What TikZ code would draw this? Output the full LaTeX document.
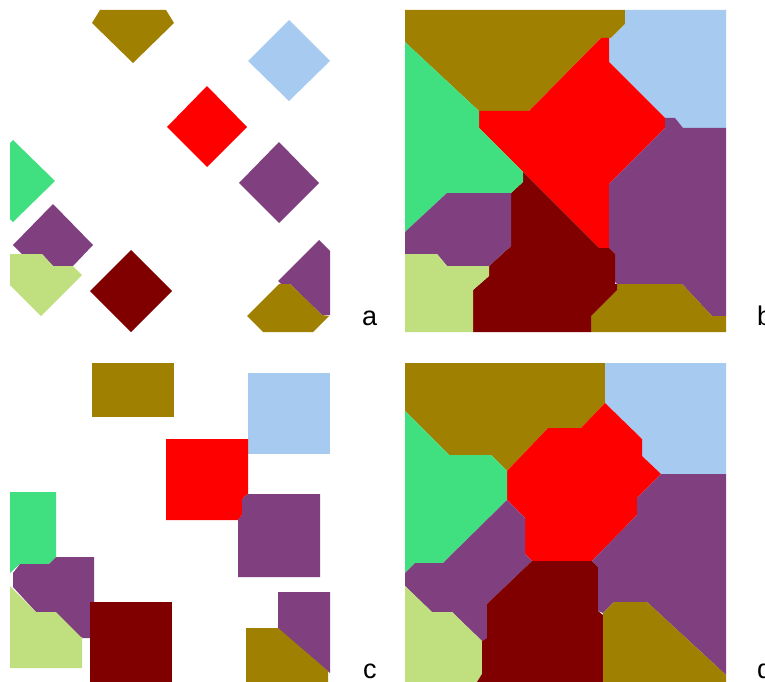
\documentclass[tikz,border=0pt]{standalone}
\usepackage{fontspec}
\setmainfont{Liberation Sans}
\definecolor{colive}{RGB}{160,128,0}
\definecolor{cblue}{RGB}{166,202,240}
\definecolor{cred}{RGB}{255,0,0}
\definecolor{cpurple}{RGB}{128,64,128}
\definecolor{cgreen}{RGB}{64,224,128}
\definecolor{clight}{RGB}{192,224,128}
\definecolor{cdark}{RGB}{128,0,0}
\tikzset{panellabel/.style={anchor=base west, inner sep=0pt, font=\fontsize{27}{30}\selectfont}}
\begin{document}
\begin{tikzpicture}[x=1pt,y=-1pt]
        \useasboundingbox (0,0) rectangle (765,682);
        % panel a
        \fill[colive] (100,10) -- (166,10) -- (174,23) -- (133,63) -- (92,23) -- cycle;
        \fill[cblue] (248,61) -- (289,20) -- (330,61) -- (289,101) -- cycle;
        \fill[cred] (167,127) -- (207,86) -- (247,127) -- (207,167) -- cycle;
        \fill[cpurple] (239,183) -- (279,142) -- (319,183) -- (279,223) -- cycle;
        \fill[cgreen] (10,143) -- (13,140) -- (55,181) -- (13,222) -- (10,219) -- cycle;
        \fill[cpurple] (13,245) -- (53,204) -- (93,245) -- (73,266) -- (53,266) -- (42,254) -- (22,254) -- cycle;
        \fill[clight] (10,254) -- (42,254) -- (53,266) -- (73,266) -- (82,275) -- (41,316) -- (10,285) -- cycle;
        \fill[cdark] (90,291) -- (131,250) -- (172,291) -- (131,332) -- cycle;
        \fill[cpurple] (278,281) -- (319,240) -- (330,251) -- (330,315) -- (322,315) -- (290,284) -- (281,284) -- cycle;
        \fill[colive] (247,316) -- (279,284) -- (290,284) -- (322,315) -- (329,316) -- (313,332) -- (263,332) -- cycle;
        % panel b
        \fill[colive] (405,10) -- (625,10) -- (625,24) -- (611,38) -- (601,38) -- (529,111) -- (479,111) -- (405,42) -- cycle;
        \fill[cblue] (625,10) -- (726,10) -- (726,128) -- (683,128) -- (675,118) -- (665,118) -- (609,62) -- (609,38) -- (611,38) -- (625,24) -- cycle;
        \fill[cred] (601,38) -- (609,38) -- (609,62) -- (665,118) -- (665,128) -- (609,184) -- (609,248) -- (599,248) -- (523,172) -- (479,128) -- (479,111) -- (529,111) -- cycle;
        \fill[cpurple] (665,118) -- (675,118) -- (683,128) -- (726,128) -- (726,316) -- (712,316) -- (682,284) -- (617,284) -- (615,282) -- (615,254) -- (609,248) -- (609,184) -- (665,128) -- cycle;
        \fill[colive] (617,284) -- (682,284) -- (712,316) -- (726,316) -- (726,332) -- (591,332) -- (591,316) -- (617,290) -- cycle;
        \fill[cdark] (523,172) -- (599,248) -- (609,248) -- (615,254) -- (615,284) -- (617,284) -- (617,290) -- (591,316) -- (591,332) -- (473,332) -- (473,290) -- (489,276) -- (489,266) -- (511,246) -- (511,193) -- (523,182) -- cycle;
        \fill[cgreen] (405,42) -- (479,111) -- (479,128) -- (523,172) -- (523,182) -- (511,193) -- (447,193) -- (405,232) -- cycle;
        \fill[cpurple] (405,232) -- (447,193) -- (511,193) -- (511,246) -- (489,266) -- (447,266) -- (437,254) -- (405,254) -- cycle;
        \fill[clight] (405,254) -- (437,254) -- (447,266) -- (489,266) -- (489,276) -- (473,290) -- (473,332) -- (405,332) -- cycle;
        % panel c
        \fill[colive] (92,363) rectangle (174,417);
        \fill[cblue] (248,373) rectangle (330,454);
        \fill[cred] (166,439) -- (248,439) -- (248,494) -- (245,496) -- (242,500) -- (242,515) -- (238,520) -- (166,520) -- cycle;
        \fill[cpurple] (238,520) -- (242,515) -- (242,500) -- (245,496) -- (248,494) -- (320,494) -- (320,577) -- (238,577) -- cycle;
        \fill[cgreen] (10,492) -- (56,492) -- (56,557) -- (49,564) -- (20,564) -- (13,570) -- (10,573) -- cycle;
        \fill[cpurple] (13,573) -- (20,564) -- (49,564) -- (56,557) -- (94,557) -- (94,602) -- (90,602) -- (90,638) -- (80,638) -- (56,613) -- (36,612) -- (13,587) -- cycle;
        \fill[clight] (10,586) -- (36,612) -- (56,612) -- (81,637) -- (82,637) -- (82,668) -- (10,668) -- cycle;
        \fill[cdark] (90,602) rectangle (172,682);
        \fill[cpurple] (278,592) -- (330,592) -- (330,673) -- (278,629) -- cycle;
        \fill[colive] (246,628) -- (278,628) -- (328,671) -- (328,682) -- (246,682) -- cycle;
        % panel d
        \fill[colive] (405,363) -- (605,363) -- (605,403) -- (581,428) -- (548,428) -- (507,471) -- (491,455) -- (449,455) -- (405,411) -- cycle;
        \fill[cblue] (605,363) -- (726,363) -- (726,474) -- (661,474) -- (642,456) -- (642,439) -- (605,403) -- cycle;
        \fill[cred] (507,471) -- (548,428) -- (581,428) -- (605,403) -- (642,439) -- (642,456) -- (661,474) -- (637,498) -- (637,515) -- (592,561) -- (532,561) -- (525,554) -- (525,518) -- (507,500) -- cycle;
        \fill[cgreen] (405,411) -- (449,455) -- (491,455) -- (507,471) -- (507,500) -- (443,563) -- (415,563) -- (405,573) -- cycle;
        \fill[cpurple] (405,573) -- (415,563) -- (443,563) -- (507,500) -- (525,518) -- (525,554) -- (532,561) -- (487,604) -- (487,638) -- (482,641) -- (452,612) -- (432,612) -- (405,586) -- cycle;
        \fill[clight] (405,586) -- (432,612) -- (452,612) -- (482,641) -- (482,674) -- (477,682) -- (405,682) -- cycle;
        \fill[cdark] (532,561) -- (592,561) -- (598,567) -- (598,611) -- (603,615) -- (603,682) -- (477,682) -- (482,674) -- (482,641) -- (487,638) -- (487,604) -- cycle;
        \fill[cpurple] (637,498) -- (661,474) -- (726,474) -- (726,675) -- (647,602) -- (614,602) -- (603,613) -- (598,611) -- (598,567) -- (592,561) -- (637,515) -- cycle;
        \fill[colive] (603,613) -- (614,602) -- (647,602) -- (726,675) -- (726,682) -- (603,682) -- cycle;
        % labels
        \node[panellabel] (la) at (362,325) {a};
        \node[panellabel] (lb) at (757,325) {b};
        \node[panellabel] (lc) at (363,678) {c};
        \node[panellabel] (ld) at (757,678) {d};
\end{tikzpicture}
\end{document}
